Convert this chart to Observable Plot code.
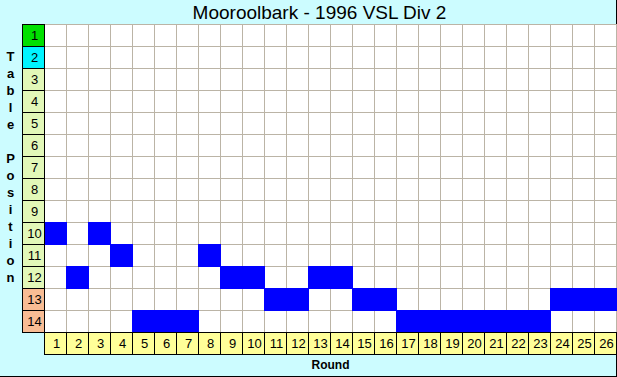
<!DOCTYPE html>
<html><head><meta charset="utf-8">
<script src="https://cdn.jsdelivr.net/npm/d3@7"></script>
<script src="https://cdn.jsdelivr.net/npm/@observablehq/plot@0.6"></script>
<style>body{margin:0;background:#fff} svg{display:block}</style>
</head><body><div id="chart"></div>
<script>
const title = "Mooroolbark - 1996 VSL Div 2";
const yTitle = "Table Position";
const xTitle = "Round";
const rounds = ["1","2","3","4","5","6","7","8","9","10","11","12","13","14","15","16","17","18","19","20","21","22","23","24","25","26"];
const tablePositions = ["1","2","3","4","5","6","7","8","9","10","11","12","13","14"];
const positionByRound = [10,12,10,11,14,14,14,11,12,12,13,13,12,12,13,13,14,14,14,14,14,14,14,13,13,13];

const LBL = "_";
const gridCells = [];
for (const r of rounds) for (const p of tablePositions) gridCells.push({round: r, pos: p});
const teamCells = rounds.map((r, i) => ({round: r, pos: String(positionByRound[i])}));
const rowFill = p => p === "1" ? "#00e000" : p === "2" ? "#00f4ff" : (+p >= 13 ? "#f8bc94" : "#e2f8b8");

const crisp = {insetLeft: 0.5, insetTop: 0.5, insetRight: -0.5, insetBottom: -0.5};

const chart = Plot.plot({
  width: 617, height: 377,
  marginTop: 24, marginBottom: 23, marginLeft: 22, marginRight: 1,
  x: {type: "band", domain: [LBL, ...rounds], padding: 0, axis: null},
  y: {type: "band", domain: [...tablePositions, LBL], padding: 0, axis: null},
  style: {background: "#ccfcff", fontFamily: "'Liberation Sans', Arial, sans-serif", boxShadow: "inset -1px -1px 0 #000", overflow: "visible"},
  marks: [
    Plot.cell(gridCells, {x: "round", y: "pos", fill: "white", stroke: "#bbb4a6", ...crisp}),
    Plot.cell(teamCells, {x: "round", y: "pos", fill: "#0000ff", insetLeft: 0, insetTop: 0, insetRight: -1, insetBottom: -1}),
    Plot.cell(tablePositions, {x: () => LBL, y: d => d, fill: d => rowFill(d), stroke: "#000", ...crisp}),
    Plot.cell(rounds, {x: d => d, y: () => LBL, fill: "#ffff99", stroke: "#000", ...crisp}),
    Plot.text(tablePositions, {x: () => LBL, y: d => d, text: d => d, fontSize: 13, fill: "#000", dx: 1}),
    Plot.text(rounds, {x: d => d, y: () => LBL, text: d => d, fontSize: 13, fill: "#000", dx: 1}),
    Plot.text([title], {frameAnchor: "top", lineAnchor: "middle", dy: -12, text: d => d, fontSize: 19, fill: "#000"}),
    Plot.text([xTitle], {frameAnchor: "bottom", lineAnchor: "middle", dy: 11, dx: 11, text: d => d, fontSize: 12, fontWeight: "bold", fill: "#000"}),
    Plot.text([yTitle.split("").join("\n")], {frameAnchor: "left", textAnchor: "middle", lineAnchor: "middle", dx: -12, dy: -23.5, text: d => d, fontSize: 13, fontWeight: "bold", lineHeight: 17/13, fill: "#000"})
  ]
});
document.getElementById("chart").append(chart);
</script>
</body></html>
